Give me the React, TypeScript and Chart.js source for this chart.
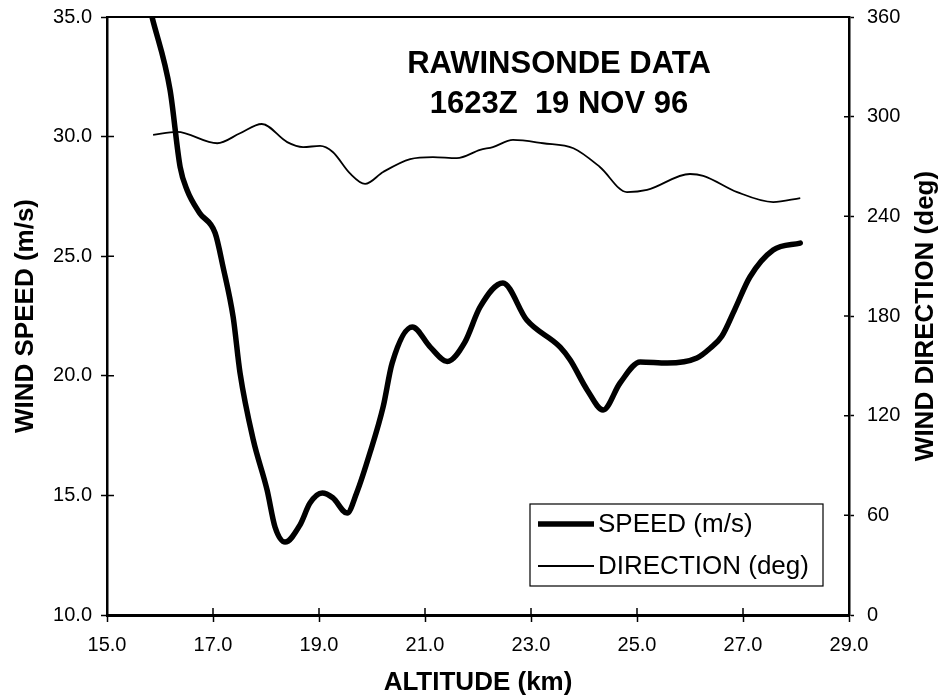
import { useEffect, useRef } from 'react';
import { Chart, registerables } from 'chart.js';

Chart.register(...registerables);

const FONT = '"Liberation Sans", Arial, Helvetica, sans-serif';

// Altitude (km) and wind speed (m/s)
const speedAltitude = [15.85, 16.19, 16.38, 16.51, 16.75, 17.04, 17.19, 17.38, 17.51, 17.76, 18.02, 18.17, 18.36, 18.64, 18.83, 19.06, 19.26, 19.53, 19.71, 19.96, 20.21, 20.38, 20.76, 21.1, 21.42, 21.75, 22.04, 22.47, 22.92, 23.55, 23.74, 24.06, 24.36, 24.68, 25.06, 25.57, 26.13, 26.38, 26.6, 26.85, 27.13, 27.57, 28.08];
const speedValues = [35.0, 31.95, 28.73, 27.77, 26.8, 25.97, 24.55, 22.46, 20.12, 17.32, 15.23, 13.68, 13.05, 13.76, 14.68, 15.1, 14.9, 14.26, 15.1, 16.77, 18.7, 20.53, 22.04, 21.2, 20.6, 21.4, 22.88, 23.88, 22.33, 21.2, 20.66, 19.41, 18.57, 19.7, 20.58, 20.53, 20.74, 21.15, 21.65, 22.8, 24.13, 25.26, 25.55];

// Altitude (km) and wind direction (deg)
const directionAltitude = [15.87, 16.32, 17.08, 17.51, 17.92, 18.4, 18.7, 19.02, 19.26, 19.58, 19.87, 20.21, 20.72, 21.15, 21.6, 22.04, 22.28, 22.66, 23.23, 23.8, 24.3, 24.81, 25.19, 26.0, 26.25, 26.89, 27.57, 28.08];
const directionValues = [289, 290.8, 284, 290, 295.6, 284.7, 281.7, 282.4, 278.7, 266, 259.5, 266.7, 274.5, 275.7, 275, 280, 281.7, 286, 284, 281, 269.7, 254.6, 255.9, 265.5, 264.4, 254.6, 248.6, 251];

const seriesLabels = ['SPEED (m/s)', 'DIRECTION (deg)'];
const titleLines = ['RAWINSONDE DATA', '1623Z  19 NOV 96'];
const xAxisTitle = 'ALTITUDE (km)';
const yAxisTitle = 'WIND SPEED (m/s)';
const y1AxisTitle = 'WIND DIRECTION (deg)';

const decorPlugin = {
  id: 'decor',
  afterDraw(chart: any) {
    const { ctx, chartArea } = chart;
    const { left, right, top, bottom } = chartArea;
    const xs = chart.scales.x;
    const ys = chart.scales.y;
    const y1 = chart.scales.y1;
    ctx.save();
    ctx.strokeStyle = '#000';
    ctx.fillStyle = '#000';

    // top frame line
    ctx.lineWidth = 2;
    ctx.beginPath();
    ctx.moveTo(left, top);
    ctx.lineTo(right, top);
    ctx.stroke();

    // inward tick marks
    ctx.lineWidth = 1.5;
    ctx.beginPath();
    xs.ticks.forEach((t: any) => {
      const p = xs.getPixelForValue(t.value);
      ctx.moveTo(p, bottom);
      ctx.lineTo(p, bottom - 7);
    });
    ys.ticks.forEach((t: any) => {
      const p = ys.getPixelForValue(t.value);
      ctx.moveTo(left, p);
      ctx.lineTo(left + 7, p);
    });
    y1.ticks.forEach((t: any) => {
      const p = y1.getPixelForValue(t.value);
      ctx.moveTo(right, p);
      ctx.lineTo(right - 5, p);
    });
    ctx.stroke();

    // right axis title, reading bottom to top
    ctx.save();
    ctx.translate(926, (top + bottom) / 2);
    ctx.rotate(-Math.PI / 2);
    ctx.font = `bold 26px ${FONT}`;
    ctx.textAlign = 'center';
    ctx.textBaseline = 'middle';
    ctx.fillText(y1AxisTitle, 0, 0);
    ctx.restore();

    // plot title
    ctx.font = `bold 31px ${FONT}`;
    ctx.textAlign = 'center';
    ctx.textBaseline = 'alphabetic';
    ctx.fillText(titleLines[0], 559, 73);
    ctx.fillText(titleLines[1], 559, 113);

    // legend box
    const lx = 530, ly = 504, lw = 293, lh = 82;
    ctx.fillStyle = '#fff';
    ctx.fillRect(lx, ly, lw, lh);
    ctx.lineWidth = 1.2;
    ctx.strokeStyle = '#000';
    ctx.strokeRect(lx, ly, lw, lh);
    ctx.fillStyle = '#000';
    ctx.font = `26px ${FONT}`;
    ctx.textAlign = 'left';
    ctx.textBaseline = 'middle';
    const rows = [524, 566];
    chart.data.datasets.forEach((ds: any, i: number) => {
      const yy = rows[i];
      ctx.lineWidth = ds.borderWidth;
      ctx.lineCap = 'butt';
      ctx.beginPath();
      ctx.moveTo(538, yy);
      ctx.lineTo(594, yy);
      ctx.stroke();
      ctx.fillText(ds.label, 598, yy + 1);
    });
    ctx.restore();
  },
};

export default function App() {
  const ref = useRef<HTMLCanvasElement | null>(null);
  useEffect(() => {
    if (!ref.current) return;
    const chart = new Chart(ref.current, {
      type: 'line',
      data: {
        datasets: [
          {
            label: seriesLabels[0],
            data: speedAltitude.map((x, i) => ({ x, y: speedValues[i] })),
            yAxisID: 'y',
            borderColor: '#000',
            borderWidth: 5.5,
            pointRadius: 0,
            cubicInterpolationMode: 'monotone',
            borderJoinStyle: 'round',
            borderCapStyle: 'round',
            fill: false,
          },
          {
            label: seriesLabels[1],
            data: directionAltitude.map((x, i) => ({ x, y: directionValues[i] })),
            yAxisID: 'y1',
            borderColor: '#000',
            borderWidth: 1.8,
            pointRadius: 0,
            cubicInterpolationMode: 'monotone',
            borderJoinStyle: 'round',
            fill: false,
          },
        ],
      },
      options: {
        animation: false,
        responsive: false,
        devicePixelRatio: 1,
        layout: { padding: { top: 17, left: 0, right: 0, bottom: 0 } },
        plugins: {
          legend: { display: false },
          tooltip: { enabled: false },
        },
        scales: {
          x: {
            type: 'linear',
            position: 'bottom',
            min: 15,
            max: 29,
            ticks: {
              stepSize: 2,
              maxRotation: 0,
              autoSkip: false,
              color: '#000',
              padding: 11,
              font: { family: FONT, size: 20 },
              callback: (v: any) => Number(v).toFixed(1),
            },
            grid: { drawOnChartArea: false, drawTicks: true, tickLength: 7, tickColor: '#000', tickWidth: 1.5 },
            border: { display: true, color: '#000', width: 3 },
            title: {
              display: true,
              text: xAxisTitle,
              color: '#000',
              font: { family: FONT, size: 26, weight: 'bold' },
              padding: { top: 0, bottom: 0 },
            },
            afterFit: (s: any) => { s.height = 83; },
          },
          y: {
            type: 'linear',
            position: 'left',
            min: 10,
            max: 35,
            ticks: {
              stepSize: 5,
              color: '#000',
              padding: 9,
              font: { family: FONT, size: 20 },
              callback: (v: any) => Number(v).toFixed(1),
            },
            grid: { drawOnChartArea: false, drawTicks: true, tickLength: 6, tickColor: '#000', tickWidth: 1.5 },
            border: { display: true, color: '#000', width: 2.5 },
            title: {
              display: true,
              text: yAxisTitle,
              color: '#000',
              font: { family: FONT, size: 26, weight: 'bold' },
              padding: { top: 10, bottom: 0 },
            },
            afterFit: (s: any) => { s.width = 107; s.paddingTop = 5; s.paddingBottom = 5; },
          },
          y1: {
            type: 'linear',
            position: 'right',
            min: 0,
            max: 360,
            ticks: {
              stepSize: 60,
              color: '#000',
              padding: 13,
              font: { family: FONT, size: 20 },
              callback: (v: any) => String(v),
            },
            grid: { drawOnChartArea: false, drawTicks: true, tickLength: 5, tickColor: '#000', tickWidth: 1.5 },
            border: { display: true, color: '#000', width: 2.5 },
            title: { display: false },
            afterFit: (s: any) => { s.width = 94; s.paddingTop = 5; s.paddingBottom = 5; },
          },
        },
      },
      plugins: [decorPlugin],
    } as any);
    return () => chart.destroy();
  }, []);

  return (
    <div style={{ position: 'absolute', left: 0, top: 0, width: 943, height: 698, background: '#fff' }}>
      <canvas ref={ref} width={943} height={698} style={{ display: 'block' }} />
    </div>
  );
}
